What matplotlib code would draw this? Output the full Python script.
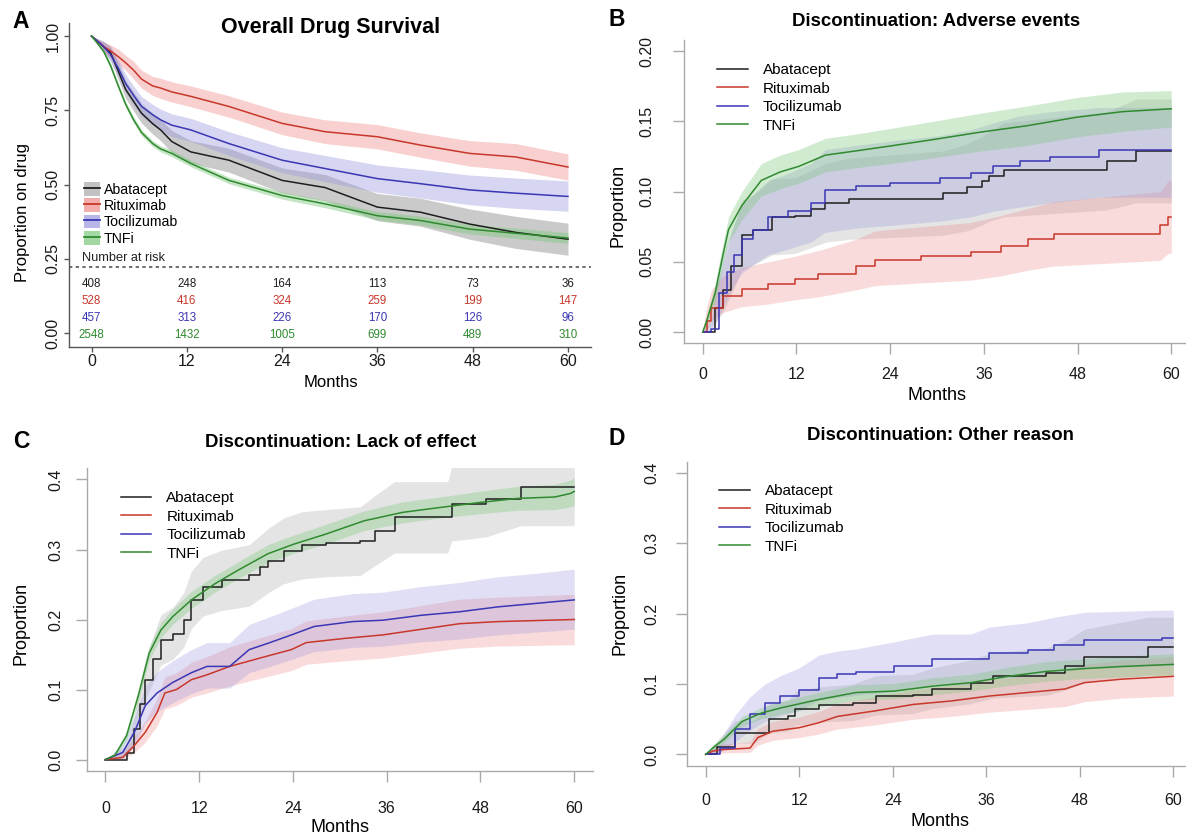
import numpy as np
import matplotlib.pyplot as plt
from matplotlib.patches import Patch
from matplotlib.lines import Line2D

plt.rcParams['font.family'] = ['Liberation Sans', 'DejaVu Sans']

W, H = 1186, 839

drugs = ['Abatacept', 'Rituximab', 'Tocilizumab', 'TNFi']
line_cols = {'Abatacept': '#1e1e1e', 'Rituximab': '#c8372a', 'Tocilizumab': '#3a36b4', 'TNFi': '#2f8a2f'}
band_cols = {'Abatacept': '#a8a8a8', 'Rituximab': '#f08a8a', 'Tocilizumab': '#9a98e0', 'TNFi': '#7cc87c'}

# ---------------- Panel A: overall drug survival ----------------
tA = [0, 1.5, 2.4, 3.4, 4.3, 5.3, 6.3, 7.7, 8.7, 10.1, 12.5, 17.3, 24, 29.4, 36, 41.4, 47.6, 53.4, 60]
A_est = {
    'Abatacept':   [1.0, 0.965, 0.944, 0.88, 0.82, 0.78, 0.74, 0.705, 0.684, 0.645, 0.61, 0.582, 0.514, 0.49, 0.424, 0.407, 0.367, 0.339, 0.316],
    'Rituximab':   [1.0, 0.965, 0.95, 0.93, 0.91, 0.885, 0.855, 0.832, 0.825, 0.812, 0.797, 0.763, 0.706, 0.678, 0.661, 0.633, 0.605, 0.593, 0.559],
    'Tocilizumab': [1.0, 0.965, 0.938, 0.89, 0.84, 0.80, 0.763, 0.735, 0.718, 0.70, 0.684, 0.638, 0.582, 0.554, 0.52, 0.503, 0.482, 0.471, 0.46],
    'TNFi':        [1.0, 0.95, 0.90, 0.83, 0.77, 0.718, 0.675, 0.638, 0.62, 0.605, 0.571, 0.514, 0.463, 0.435, 0.395, 0.379, 0.35, 0.336, 0.32],
}
A_lo = {
    'Abatacept':   [1.0, 0.948, 0.922, 0.852, 0.79, 0.748, 0.707, 0.67, 0.648, 0.608, 0.572, 0.542, 0.472, 0.446, 0.378, 0.36, 0.316, 0.285, 0.262],
    'Rituximab':   [1.0, 0.945, 0.93, 0.905, 0.885, 0.855, 0.825, 0.80, 0.79, 0.778, 0.762, 0.727, 0.668, 0.638, 0.62, 0.592, 0.562, 0.548, 0.515],
    'Tocilizumab': [1.0, 0.948, 0.915, 0.862, 0.81, 0.768, 0.73, 0.70, 0.682, 0.662, 0.645, 0.598, 0.54, 0.51, 0.474, 0.455, 0.432, 0.42, 0.41],
    'TNFi':        [1.0, 0.942, 0.89, 0.82, 0.76, 0.708, 0.665, 0.628, 0.61, 0.594, 0.56, 0.503, 0.451, 0.422, 0.381, 0.364, 0.334, 0.319, 0.302],
}
A_hi = {
    'Abatacept':   [1.0, 0.982, 0.966, 0.908, 0.85, 0.812, 0.773, 0.74, 0.72, 0.682, 0.648, 0.622, 0.556, 0.534, 0.47, 0.454, 0.418, 0.393, 0.37],
    'Rituximab':   [1.0, 0.98, 0.97, 0.955, 0.935, 0.915, 0.885, 0.864, 0.858, 0.846, 0.832, 0.799, 0.744, 0.718, 0.702, 0.674, 0.648, 0.638, 0.603],
    'Tocilizumab': [1.0, 0.982, 0.961, 0.918, 0.87, 0.832, 0.796, 0.77, 0.754, 0.738, 0.723, 0.678, 0.624, 0.598, 0.566, 0.551, 0.532, 0.522, 0.512],
    'TNFi':        [1.0, 0.958, 0.91, 0.84, 0.78, 0.728, 0.685, 0.648, 0.63, 0.616, 0.582, 0.525, 0.475, 0.448, 0.409, 0.394, 0.366, 0.353, 0.338],
}
risk_times = [0, 12, 24, 36, 48, 60]
at_risk = {
    'Abatacept':   [408, 248, 164, 113, 73, 36],
    'Rituximab':   [528, 416, 324, 259, 199, 147],
    'Tocilizumab': [457, 313, 226, 170, 126, 96],
    'TNFi':        [2548, 1432, 1005, 699, 489, 310],
}

# ---------------- Panel B: adverse events ----------------
B_t = {
    'Abatacept':   [0, 1.6, 2.6, 3.6, 5.0, 6.5, 8.9, 11.8, 13.8, 15.7, 18.7, 30.8, 33.8, 35.7, 36.7, 38.6, 51.8, 55.5, 60],
    'Rituximab':   [0, 0.5, 1.1, 2.6, 5.0, 8.4, 11.8, 14.8, 19.6, 22.0, 27.9, 34.3, 38.2, 41.6, 45.0, 58.6, 59.6, 60],
    'Tocilizumab': [0, 1.1, 2.1, 3.1, 4.0, 5.0, 6.5, 8.4, 10.9, 13.8, 15.7, 19.6, 24, 30.4, 34.3, 37.2, 40.6, 44.5, 50.8, 60],
    'TNFi':        [0, 0.5, 1.6, 2.4, 3.3, 5.0, 7.5, 9.9, 12.3, 15.7, 19.6, 24, 29.4, 35.7, 41.6, 47.9, 53.8, 60],
}
B_est = {
    'Abatacept':   [0, 0.017, 0.03, 0.047, 0.069, 0.073, 0.082, 0.083, 0.0875, 0.092, 0.095, 0.099, 0.103, 0.1077, 0.111, 0.1155, 0.122, 0.129, 0.129],
    'Rituximab':   [0, 0.008, 0.017, 0.026, 0.031, 0.034, 0.038, 0.041, 0.047, 0.051, 0.054, 0.057, 0.0615, 0.066, 0.07, 0.076, 0.082, 0.082],
    'Tocilizumab': [0, 0.002, 0.028, 0.043, 0.055, 0.066, 0.073, 0.082, 0.086, 0.092, 0.101, 0.104, 0.106, 0.11, 0.1135, 0.118, 0.122, 0.125, 0.13, 0.13],
    'TNFi':        [0, 0.008, 0.028, 0.05, 0.073, 0.09, 0.108, 0.114, 0.118, 0.126, 0.129, 0.1325, 0.137, 0.1425, 0.147, 0.153, 0.157, 0.159],
}
B_lo = {
    'Abatacept':   [0, 0.006, 0.014, 0.026, 0.044, 0.048, 0.055, 0.056, 0.06, 0.064, 0.066, 0.069, 0.072, 0.076, 0.079, 0.082, 0.087, 0.092, 0.092],
    'Rituximab':   [0, 0.002, 0.008, 0.014, 0.018, 0.02, 0.023, 0.025, 0.03, 0.033, 0.035, 0.037, 0.04, 0.044, 0.047, 0.051, 0.056, 0.056],
    'Tocilizumab': [0, 0, 0.012, 0.024, 0.033, 0.042, 0.048, 0.055, 0.059, 0.064, 0.071, 0.074, 0.076, 0.079, 0.082, 0.086, 0.089, 0.092, 0.096, 0.096],
    'TNFi':        [0, 0.005, 0.022, 0.042, 0.064, 0.08, 0.097, 0.102, 0.106, 0.114, 0.117, 0.12, 0.124, 0.129, 0.133, 0.139, 0.143, 0.146],
}
B_hi = {
    'Abatacept':   [0, 0.03, 0.047, 0.068, 0.094, 0.098, 0.109, 0.11, 0.115, 0.12, 0.124, 0.129, 0.134, 0.139, 0.143, 0.149, 0.157, 0.166, 0.166],
    'Rituximab':   [0, 0.018, 0.03, 0.04, 0.046, 0.05, 0.054, 0.058, 0.066, 0.072, 0.075, 0.078, 0.083, 0.088, 0.093, 0.1, 0.108, 0.108],
    'Tocilizumab': [0, 0.008, 0.045, 0.063, 0.077, 0.09, 0.098, 0.108, 0.113, 0.12, 0.13, 0.133, 0.136, 0.14, 0.144, 0.149, 0.154, 0.157, 0.16, 0.16],
    'TNFi':        [0, 0.012, 0.035, 0.058, 0.082, 0.10, 0.12, 0.126, 0.13, 0.138, 0.141, 0.145, 0.15, 0.156, 0.161, 0.167, 0.171, 0.172],
}

# ---------------- Panel C: lack of effect ----------------
C_t = {
    'Abatacept':   [0, 2.7, 3.7, 4.4, 5.1, 6.1, 7.1, 8.6, 10, 11, 12.5, 14.9, 18.4, 19.8, 20.8, 22.8, 25.2, 28.2, 32.6, 34.5, 37, 43.8, 44.3, 48.7, 53.2, 60],
    'Rituximab':   [0, 2.2, 3.7, 5.1, 6.6, 7.6, 9.1, 11, 13, 15.9, 19.8, 23.8, 25.7, 30.6, 35.5, 40.4, 45.3, 50.2, 60],
    'Tocilizumab': [0, 2.2, 3.7, 5.1, 6.6, 8.6, 11, 13, 15.9, 18.4, 20.8, 23.8, 26.7, 31.6, 35.5, 40.4, 45.3, 50.2, 55.1, 60],
    'TNFi':        [0, 1.2, 2.7, 4.2, 5.6, 7.1, 8.6, 11, 14, 16.9, 20.8, 24.2, 28.2, 33.1, 38, 42.8, 47.8, 52.7, 57.5, 59.5, 60],
}
C_est = {
    'Abatacept':   [0, 0.01, 0.043, 0.08, 0.114, 0.143, 0.171, 0.18, 0.199, 0.228, 0.247, 0.256, 0.263, 0.275, 0.284, 0.298, 0.306, 0.309, 0.312, 0.327, 0.346, 0.346, 0.365, 0.372, 0.389, 0.389],
    'Rituximab':   [0, 0.003, 0.02, 0.039, 0.067, 0.095, 0.1, 0.114, 0.121, 0.133, 0.145, 0.157, 0.167, 0.173, 0.178, 0.186, 0.194, 0.197, 0.2],
    'Tocilizumab': [0, 0.01, 0.039, 0.077, 0.095, 0.11, 0.124, 0.133, 0.133, 0.157, 0.166, 0.178, 0.19, 0.197, 0.199, 0.206, 0.211, 0.218, 0.223, 0.228],
    'TNFi':        [0, 0.006, 0.034, 0.091, 0.152, 0.185, 0.204, 0.228, 0.251, 0.27, 0.294, 0.308, 0.322, 0.341, 0.353, 0.36, 0.367, 0.373, 0.375, 0.38, 0.383],
}
C_lo = {
    'Abatacept':   [0, 0.002, 0.025, 0.055, 0.085, 0.11, 0.135, 0.143, 0.16, 0.187, 0.205, 0.213, 0.219, 0.23, 0.238, 0.251, 0.258, 0.261, 0.263, 0.277, 0.295, 0.295, 0.312, 0.318, 0.334, 0.334],
    'Rituximab':   [0, 0.0, 0.01, 0.025, 0.048, 0.072, 0.077, 0.089, 0.095, 0.105, 0.116, 0.127, 0.136, 0.141, 0.145, 0.152, 0.159, 0.162, 0.164],
    'Tocilizumab': [0, 0.002, 0.02, 0.052, 0.068, 0.081, 0.094, 0.102, 0.102, 0.124, 0.132, 0.143, 0.154, 0.16, 0.162, 0.168, 0.172, 0.178, 0.182, 0.186],
    'TNFi':        [0, 0.003, 0.028, 0.082, 0.142, 0.174, 0.193, 0.216, 0.239, 0.258, 0.281, 0.295, 0.308, 0.327, 0.338, 0.345, 0.351, 0.356, 0.357, 0.361, 0.363],
}
C_hi = {
    'Abatacept':   [0, 0.02, 0.062, 0.105, 0.143, 0.176, 0.207, 0.217, 0.238, 0.269, 0.289, 0.299, 0.307, 0.32, 0.33, 0.345, 0.354, 0.357, 0.361, 0.377, 0.397, 0.397, 0.418, 0.425, 0.44, 0.44],
    'Rituximab':   [0, 0.01, 0.032, 0.055, 0.087, 0.118, 0.124, 0.139, 0.147, 0.161, 0.174, 0.187, 0.198, 0.205, 0.211, 0.22, 0.229, 0.232, 0.236],
    'Tocilizumab': [0, 0.022, 0.062, 0.105, 0.125, 0.141, 0.157, 0.167, 0.167, 0.193, 0.203, 0.216, 0.229, 0.237, 0.239, 0.247, 0.253, 0.261, 0.266, 0.272],
    'TNFi':        [0, 0.01, 0.04, 0.1, 0.162, 0.196, 0.215, 0.24, 0.263, 0.282, 0.307, 0.321, 0.336, 0.355, 0.368, 0.375, 0.383, 0.39, 0.393, 0.399, 0.403],
}

# ---------------- Panel D: other reason ----------------
D_t = {
    'Abatacept':   [0, 1.5, 3.8, 6.2, 8.1, 10.6, 11.5, 14.5, 18.9, 21.8, 26.6, 29.1, 34, 36.9, 43.7, 46.1, 48.6, 56.8, 60],
    'Rituximab':   [0, 1.0, 2.3, 5.7, 6.7, 8.6, 12, 14.5, 16.9, 21.8, 26.6, 31.5, 36.4, 41.3, 46.1, 48.6, 53.4, 60],
    'Tocilizumab': [0, 1.8, 3.8, 5.7, 7.6, 9.6, 12, 14.5, 16.9, 19.3, 24.2, 29.1, 34, 36.4, 41.3, 44.7, 48.6, 58.5, 60],
    'TNFi':        [0, 1.0, 2.3, 4.7, 7.2, 9.6, 14.5, 19.3, 24.2, 29.1, 34, 38.8, 43.7, 48.6, 53.4, 60],
}
D_est = {
    'Abatacept':   [0, 0.01, 0.031, 0.031, 0.05, 0.054, 0.064, 0.07, 0.073, 0.083, 0.085, 0.093, 0.102, 0.111, 0.116, 0.125, 0.139, 0.152, 0.152],
    'Rituximab':   [0, 0.005, 0.007, 0.009, 0.024, 0.033, 0.038, 0.045, 0.054, 0.062, 0.071, 0.076, 0.083, 0.088, 0.093, 0.102, 0.107, 0.111],
    'Tocilizumab': [0, 0.009, 0.036, 0.057, 0.073, 0.083, 0.092, 0.109, 0.114, 0.117, 0.125, 0.135, 0.135, 0.144, 0.149, 0.156, 0.162, 0.166, 0.166],
    'TNFi':        [0, 0.01, 0.021, 0.047, 0.059, 0.066, 0.078, 0.088, 0.09, 0.097, 0.102, 0.111, 0.118, 0.122, 0.125, 0.128],
}
D_lo = {
    'Abatacept':   [0, 0.002, 0.016, 0.016, 0.03, 0.033, 0.041, 0.046, 0.048, 0.056, 0.058, 0.065, 0.072, 0.08, 0.084, 0.091, 0.103, 0.113, 0.113],
    'Rituximab':   [0, 0.001, 0.002, 0.003, 0.013, 0.02, 0.024, 0.029, 0.036, 0.042, 0.05, 0.054, 0.06, 0.064, 0.068, 0.075, 0.08, 0.083],
    'Tocilizumab': [0, 0.002, 0.018, 0.034, 0.047, 0.055, 0.062, 0.077, 0.081, 0.084, 0.09, 0.099, 0.099, 0.107, 0.111, 0.117, 0.122, 0.126, 0.126],
    'TNFi':        [0, 0.006, 0.016, 0.04, 0.051, 0.057, 0.068, 0.077, 0.079, 0.085, 0.09, 0.098, 0.104, 0.108, 0.11, 0.113],
}
D_hi = {
    'Abatacept':   [0, 0.02, 0.048, 0.048, 0.072, 0.077, 0.089, 0.096, 0.1, 0.112, 0.114, 0.123, 0.134, 0.145, 0.151, 0.161, 0.178, 0.195, 0.195],
    'Rituximab':   [0, 0.012, 0.015, 0.018, 0.037, 0.047, 0.053, 0.061, 0.072, 0.082, 0.092, 0.098, 0.106, 0.112, 0.118, 0.128, 0.134, 0.139],
    'Tocilizumab': [0, 0.02, 0.056, 0.082, 0.1, 0.112, 0.123, 0.141, 0.147, 0.15, 0.16, 0.171, 0.171, 0.181, 0.187, 0.195, 0.202, 0.205, 0.205],
    'TNFi':        [0, 0.014, 0.026, 0.054, 0.067, 0.075, 0.088, 0.099, 0.101, 0.109, 0.114, 0.124, 0.132, 0.136, 0.14, 0.143],
}


def fx(px):
    return px / W


def fy(py):
    return 1 - py / H


def add_ax(left, top, right, bottom):
    return fig.add_axes([fx(left), fy(bottom), fx(right) - fx(left), (bottom - top) / H])


def style_axes(ax, spine_col, tick_len, xpad, ypad):
    for s in ['top', 'right']:
        ax.spines[s].set_visible(False)
    for s in ['left', 'bottom']:
        ax.spines[s].set_color(spine_col)
        ax.spines[s].set_linewidth(1.0)
    ax.tick_params(axis='both', colors=spine_col, length=tick_len, width=1.0, labelcolor='#1a1a1a', labelsize=11.5)
    ax.tick_params(axis='x', pad=xpad)
    ax.tick_params(axis='y', pad=ypad, labelrotation=90)
    for lab in ax.get_yticklabels():
        lab.set_va('center')
    ax.set_xticks(risk_times)


def draw_curves(ax, times, est, lo, hi, stepped, band_alpha):
    for d in drugs:
        t = times[d] if isinstance(times, dict) else times
        ax.fill_between(t, lo[d], hi[d], color=band_cols[d], alpha=band_alpha[d], lw=0)
    for d in drugs:
        t = times[d] if isinstance(times, dict) else times
        ds = 'steps-post' if d in stepped else 'default'
        ax.plot(t, est[d], color=line_cols[d], lw=1.1, drawstyle=ds)


alpha_A = {'Abatacept': 0.6, 'Rituximab': 0.4, 'Tocilizumab': 0.4, 'TNFi': 0.45}
alpha_BCD = {'Abatacept': 0.3, 'Rituximab': 0.3, 'Tocilizumab': 0.3, 'TNFi': 0.35}

fig = plt.figure(figsize=(W / 100, H / 100), dpi=100)

# ---- A ----
axA = add_ax(68.5, 23, 591, 346.7)
draw_curves(axA, tA, A_est, A_lo, A_hi, [], alpha_A)
axA.set_xlim(-2.9, 62.9)
axA.set_ylim(-0.046, 1.044)
axA.set_yticks([0, 0.25, 0.5, 0.75, 1.0])
axA.set_yticklabels(['0.00', '0.25', '0.50', '0.75', '1.00'])
style_axes(axA, '#555555', 3.5, 2, 2)
axA.axhline(0.224, color='#555555', lw=1.2, ls=(0, (2, 2)))
axA.text(-1.2, 0.252, 'Number at risk', fontsize=9.2, color='#222222', va='center', ha='left')
row_y = [0.164, 0.107, 0.05, -0.006]
for d, yy in zip(drugs, row_y):
    for tt, n in zip(risk_times, at_risk[d]):
        axA.text(tt, yy, str(n), fontsize=8.3, color=line_cols[d], ha='center', va='center')
handlesA = [(Patch(facecolor=band_cols[d], alpha=0.7, lw=0), Line2D([], [], color=line_cols[d], lw=1.3)) for d in drugs]
axA.legend(handlesA, drugs, loc='upper left', bbox_to_anchor=(fx(84), fy(182)), bbox_transform=fig.transFigure,
           frameon=False, fontsize=10.2, handlelength=1.1, handleheight=1.1, handletextpad=0.3,
           labelspacing=0.12, borderpad=0, borderaxespad=0)

# ---- B ----
axB = add_ax(684, 40, 1190, 343.3)
draw_curves(axB, B_t, B_est, B_lo, B_hi, ['Abatacept', 'Rituximab', 'Tocilizumab'], alpha_BCD)
axB.set_xlim(-2.4, 62.4)
axB.set_ylim(-0.008, 0.208)
axB.set_yticks([0, 0.05, 0.10, 0.15, 0.20])
axB.set_yticklabels(['0.00', '0.05', '0.10', '0.15', '0.20'])
style_axes(axB, '#aaaaaa', 8, 9, 13)

# ---- C ----
axC = add_ax(86.7, 468.3, 593, 770.7)
draw_curves(axC, C_t, C_est, C_lo, C_hi, ['Abatacept'], alpha_BCD)
axC.set_xlim(-2.4, 62.4)
axC.set_ylim(-0.016, 0.416)
axC.set_yticks([0, 0.1, 0.2, 0.3, 0.4])
axC.set_yticklabels(['0.0', '0.1', '0.2', '0.3', '0.4'])
style_axes(axC, '#aaaaaa', 8, 14, 9)

# ---- D ----
axD = add_ax(686.9, 461.7, 1192, 765.7)
draw_curves(axD, D_t, D_est, D_lo, D_hi, ['Abatacept', 'Tocilizumab'], alpha_BCD)
axD.set_xlim(-2.4, 62.4)
axD.set_ylim(-0.016, 0.416)
axD.set_yticks([0, 0.1, 0.2, 0.3, 0.4])
axD.set_yticklabels(['0.0', '0.1', '0.2', '0.3', '0.4'])
style_axes(axD, '#aaaaaa', 8, 12, 12)

# legends for B, C, D (lines only)
for ax, (lx, ly) in [(axB, (717, 63)), (axC, (120.5, 491)), (axD, (719, 484))]:
    hs = [Line2D([], [], color=line_cols[d], lw=1.1) for d in drugs]
    ax.legend(hs, drugs, loc='upper left', bbox_to_anchor=(fx(lx), fy(ly)), bbox_transform=fig.transFigure,
              frameon=False, fontsize=11, handlelength=2.0, handletextpad=1.0,
              labelspacing=0.3, borderpad=0, borderaxespad=0)

# titles, panel letters, axis labels
fig.text(fx(331), fy(27), 'Overall Drug Survival', fontsize=15.5, fontweight='bold', ha='center', va='center')
fig.text(fx(936), fy(22), 'Discontinuation: Adverse events', fontsize=13.4, fontweight='bold', ha='center', va='center')
fig.text(fx(341), fy(442), 'Discontinuation: Lack of effect', fontsize=13.4, fontweight='bold', ha='center', va='center')
fig.text(fx(940), fy(435), 'Discontinuation: Other reason', fontsize=13.4, fontweight='bold', ha='center', va='center')
for letter, x, y in [('A', 21, 22), ('B', 617, 19), ('C', 21, 441), ('D', 617, 438)]:
    fig.text(fx(x), fy(y), letter, fontsize=16.5, fontweight='bold', ha='center', va='center')

fig.text(fx(23), fy(212), 'Proportion on drug', fontsize=12, rotation=90, ha='center', va='center')
fig.text(fx(618.5), fy(205), 'Proportion', fontsize=13, rotation=90, ha='center', va='center')
fig.text(fx(21), fy(623), 'Proportion', fontsize=13, rotation=90, ha='center', va='center')
fig.text(fx(620.4), fy(613), 'Proportion', fontsize=13, rotation=90, ha='center', va='center')

fig.text(fx(331), fy(382.5), 'Months', fontsize=12, ha='center', va='center')
fig.text(fx(937), fy(395), 'Months', fontsize=13, ha='center', va='center')
fig.text(fx(340), fy(827), 'Months', fontsize=13, ha='center', va='center')
fig.text(fx(940), fy(822), 'Months', fontsize=13, ha='center', va='center')

fig.savefig('out.png', dpi=100)
